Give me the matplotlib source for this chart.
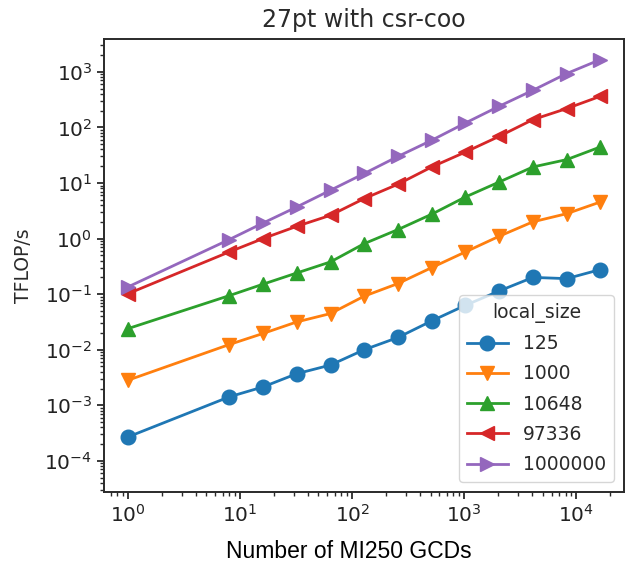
import numpy as np
import matplotlib
matplotlib.use("Agg")
import matplotlib.pyplot as plt

# number of GCDs
gcds = [1, 8, 16, 32, 64, 128, 256, 512, 1024, 2048, 4096, 8192, 16384]

local_sizes = ["125", "1000", "10648", "97336", "1000000"]

# TFLOP/s per local size
tflops_125 = [2.7e-4, 1.42e-3, 2.14e-3, 3.7e-3, 5.3e-3, 1.0e-2, 1.66e-2,
              3.3e-2, 6.3e-2, 0.114, 0.20, 0.19, 0.277]
tflops_1000 = [2.83e-3, 0.0124, 0.0196, 0.0316, 0.0447, 0.092, 0.155,
               0.30, 0.575, 1.1, 2.0, 2.8, 4.55]
tflops_10648 = [0.024, 0.094, 0.151, 0.24, 0.38, 0.81, 1.45,
                2.74, 5.6, 10.4, 19.4, 26.3, 44.5]
tflops_97336 = [0.102, 0.575, 1.0, 1.66, 2.62, 5.24, 9.5,
                19.4, 36, 69, 138, 218, 363]
tflops_1000000 = [0.135, 0.96, 1.9, 3.7, 7.4, 14.8, 30,
                  58.6, 120, 240, 465, 930, 1660]

series = [tflops_125, tflops_1000, tflops_10648, tflops_97336, tflops_1000000]
markers = ['o', 'v', '^', '<', '>']
colors = ['#1f77b4', '#ff7f0e', '#2ca02c', '#d62728', '#9467bd']

xticks = [1, 10, 100, 1000, 10000]
yticks = [1e-4, 1e-3, 1e-2, 1e-1, 1, 10, 100, 1000]

fig = plt.figure(figsize=(6.33, 5.66), dpi=100)
ax = fig.add_axes([104 / 633, 1 - 492 / 566, 520 / 633, 453 / 566])

for label, vals, m, c in zip(local_sizes, series, markers, colors):
    ax.plot(gcds, vals, marker=m, color=c, label=label,
            linewidth=2.0, markersize=10.5)

ax.set_xscale('log')
ax.set_yscale('log')
ax.set_xticks(xticks)
ax.set_yticks(yticks)
ax.set_xlim(10 ** -0.215, 10 ** 4.425)
ax.set_ylim(10 ** -4.56, 10 ** 3.59)

ax.set_title('27pt with csr-coo', fontsize=17, color='#2a2a2a', pad=9)
ax.set_ylabel('TFLOP/s', fontsize=13.5, color='#2a2a2a', labelpad=8)
ax.tick_params(axis='both', which='major', labelsize=14.5, length=5,
               width=1.3, labelcolor='#222222', color='#2a2a2a')
ax.tick_params(axis='both', which='minor', length=3, width=1.0,
               color='#2a2a2a')
for s in ax.spines.values():
    s.set_linewidth(1.4)
    s.set_color('#2a2a2a')

leg = ax.legend(title='local_size', loc='lower right', fontsize=13.5,
                title_fontsize=13.5, handlelength=2.2, borderaxespad=0.55,
                labelspacing=0.6, framealpha=0.8)
for t in leg.get_texts():
    t.set_color('#2a2a2a')
leg.get_title().set_color('#2a2a2a')

# x label sits well below the axes, in an Arial-like face
fig.text(349 / 633, 1 - 551 / 566, 'Number of MI250 GCDs',
         fontsize=16.5, family='Liberation Sans', ha='center', va='center')

fig.savefig('out.png', dpi=100)
